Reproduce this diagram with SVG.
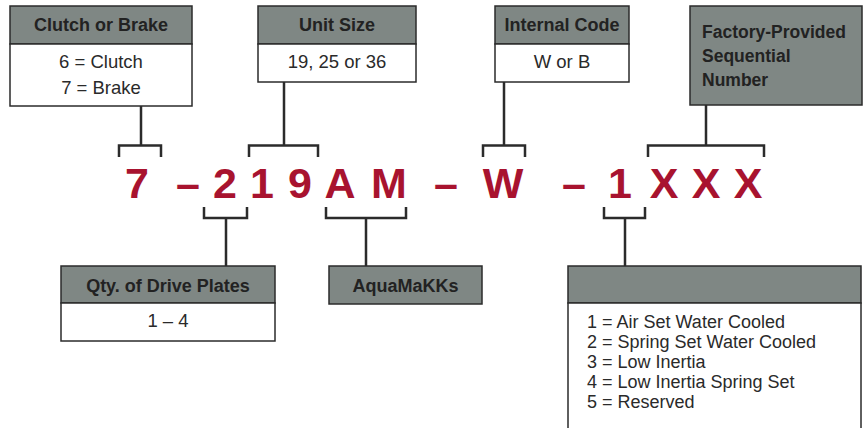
<svg xmlns="http://www.w3.org/2000/svg" width="867" height="428" viewBox="0 0 867 428">
<style>
.hdr{fill:#7f8784;stroke:#2b2b2b;stroke-width:1.5}
.body{fill:#ffffff;stroke:#2b2b2b;stroke-width:1.5}
.ht{font-family:"Liberation Sans",Arial,sans-serif;font-weight:bold;font-size:18px;fill:#222222;text-anchor:middle}
.htl{font-family:"Liberation Sans",Arial,sans-serif;font-weight:bold;font-size:17.5px;fill:#222222}
.bt{font-family:"Liberation Sans",Arial,sans-serif;font-size:18.5px;fill:#2a2a2a;text-anchor:middle}
.lt{font-family:"Liberation Sans",Arial,sans-serif;font-size:18px;fill:#2a2a2a}
.code{font-family:"Liberation Sans",Arial,sans-serif;font-weight:bold;font-size:43px;fill:#a8132f;text-anchor:middle}
.conn{fill:none;stroke:#2b2b2b;stroke-width:2.5}
</style>
<rect width="867" height="428" fill="#ffffff"/>
<g id="connectors">
<path class="conn" d="M119 157V145.5H161V157M141 145.5V106"/>
<path class="conn" d="M249 157V145.5H318V157M284 145.5V82"/>
<path class="conn" d="M483 157V145.5H525V157M504 145.5V82"/>
<path class="conn" d="M648 157V145.5H764V157M706 145.5V105"/>
<path class="conn" d="M204 207V218H247V207M226 218V266"/>
<path class="conn" d="M326 207V218H406V207M366 218V266"/>
<path class="conn" d="M604 207V218H645V207M625 218V266"/>
</g>
<g id="code">
<text class="code" x="137" y="198">7</text>
<text class="code" x="188" y="198">–</text>
<text class="code" x="225" y="198">2</text>
<text class="code" x="262" y="198">1</text>
<text class="code" x="300" y="198">9</text>
<text class="code" x="340" y="198">A</text>
<text class="code" x="389" y="198">M</text>
<text class="code" x="446" y="198">–</text>
<text class="code" x="503" y="198">W</text>
<text class="code" x="574" y="198">–</text>
<text class="code" x="620" y="198">1</text>
<text class="code" x="664" y="198">X</text>
<text class="code" x="706" y="198">X</text>
<text class="code" x="748" y="198">X</text>
</g>
<g id="clutch-or-brake">
<rect class="hdr" x="10" y="6" width="182" height="38"/>
<rect class="body" x="10" y="44" width="182" height="62"/>
<text class="ht" x="101" y="31">Clutch or Brake</text>
<text class="bt" x="101" y="68">6 = Clutch</text>
<text class="bt" x="101" y="94">7 = Brake</text>
</g>
<g id="unit-size">
<rect class="hdr" x="258" y="6" width="158" height="38"/>
<rect class="body" x="258" y="44" width="158" height="38"/>
<text class="ht" x="337" y="31">Unit Size</text>
<text class="bt" x="337" y="68">19, 25 or 36</text>
</g>
<g id="internal-code">
<rect class="hdr" x="495" y="6" width="134" height="38"/>
<rect class="body" x="495" y="44" width="134" height="38"/>
<text class="ht" x="562" y="31">Internal Code</text>
<text class="bt" x="562" y="68">W or B</text>
</g>
<g id="factory-number">
<rect class="hdr" x="690" y="6" width="172" height="99"/>
<text class="htl" x="702" y="38">Factory-Provided</text>
<text class="htl" x="702" y="62">Sequential</text>
<text class="htl" x="702" y="86">Number</text>
</g>
<g id="drive-plates">
<rect class="hdr" x="61" y="266" width="214" height="37"/>
<rect class="body" x="61" y="303" width="214" height="38"/>
<text class="ht" x="168" y="292">Qty. of Drive Plates</text>
<text class="bt" x="168" y="327">1 – 4</text>
</g>
<g id="aquamakks">
<rect class="hdr" x="329" y="266" width="153" height="38"/>
<text class="ht" x="405.5" y="292">AquaMaKKs</text>
</g>
<g id="type">
<rect class="hdr" x="568" y="266" width="293" height="37"/>
<rect class="body" x="568" y="303" width="293" height="140"/>
<text class="lt" x="587" y="328">1 = Air Set Water Cooled</text>
<text class="lt" x="587" y="348">2 = Spring Set Water Cooled</text>
<text class="lt" x="587" y="368">3 = Low Inertia</text>
<text class="lt" x="587" y="388">4 = Low Inertia Spring Set</text>
<text class="lt" x="587" y="408">5 = Reserved</text>
</g>
</svg>
